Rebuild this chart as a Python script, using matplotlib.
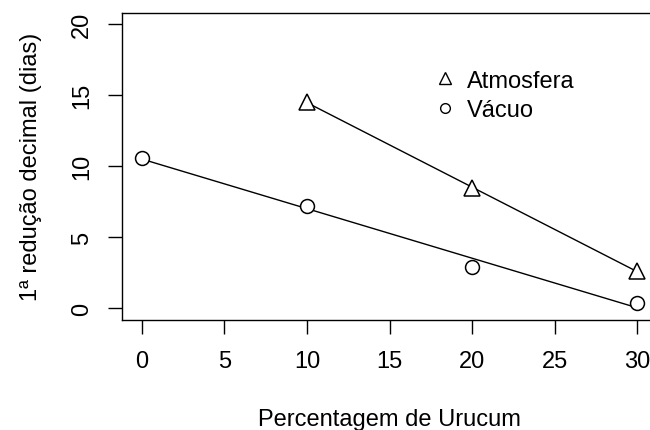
import numpy as np
import matplotlib
matplotlib.use("Agg")
import matplotlib.pyplot as plt
import matplotlib.transforms as mtransforms
from matplotlib.lines import Line2D

plt.rcParams['font.family'] = ['Liberation Sans', 'DejaVu Sans']

# dados
x_atm = np.array([10, 20, 30])
y_atm = np.array([14.5, 8.5, 2.6])
x_vac = np.array([0, 10, 20, 30])
y_vac = np.array([10.6, 7.2, 2.9, 0.4])
xticks = [0, 5, 10, 15, 20, 25, 30]
yticks = [0, 5, 10, 15, 20]

fs = 17
W, H = 650, 431
fig = plt.figure(figsize=(6.5, 4.31), dpi=100)
# area do grafico (a borda direita fica fora da imagem, como no original)
ax = fig.add_axes([122/W, (H-320.7)/H, 535/W, (320.7-13.9)/H])
ax.set_xlim(-1.2, 31.2)
ax.set_ylim(-0.8, 20.8)

# retas ajustadas
b_atm = np.polyfit(x_atm, y_atm, 1)
b_vac = np.polyfit(x_vac, y_vac, 1)
ax.plot(x_atm, np.polyval(b_atm, x_atm), color='black', lw=1.0)
ax.plot(x_vac, np.polyval(b_vac, x_vac), color='black', lw=1.0)

ax.plot(x_atm, y_atm, ls='none', marker='^', ms=12, mfc='white', mec='black', mew=1.1)
ax.plot(x_vac, y_vac, ls='none', marker='o', ms=10, mfc='white', mec='black', mew=1.1)

for s in ax.spines.values():
    s.set_linewidth(1.0)

ax.set_xticks(xticks)
ax.set_yticks(yticks)
ax.tick_params(axis='both', direction='out', length=10, width=1.0, labelsize=fs)
ax.tick_params(axis='x', pad=12)
ax.tick_params(axis='y', pad=11)
for lab in ax.get_yticklabels():
    lab.set_rotation(90)
    lab.set_va('center')

ax.set_xlabel('Percentagem de Urucum', fontsize=fs, va='baseline')
ax.xaxis.set_label_coords(0.5, (H-426.5)/H,
                          transform=mtransforms.blended_transform_factory(ax.transAxes, fig.transFigure))
ax.set_ylabel('1ª redução decimal (dias)', fontsize=fs, va='baseline')
ax.yaxis.set_label_coords(37/W, 0.5,
                          transform=mtransforms.blended_transform_factory(fig.transFigure, ax.transAxes))

handles = [
    Line2D([], [], ls='none', marker='^', ms=9, mfc='white', mec='black', mew=1.0),
    Line2D([], [], ls='none', marker='o', ms=7, mfc='white', mec='black', mew=1.0),
]
fig.legend(handles, ['Atmosfera', 'Vácuo'], loc='center left',
           bbox_to_anchor=(434/W, (H-96.5)/H), bbox_transform=fig.transFigure,
           frameon=False, fontsize=fs, handlelength=0.95, handletextpad=0.45,
           labelspacing=0.32, borderpad=0, borderaxespad=0)

fig.savefig('out.png', dpi=100)
